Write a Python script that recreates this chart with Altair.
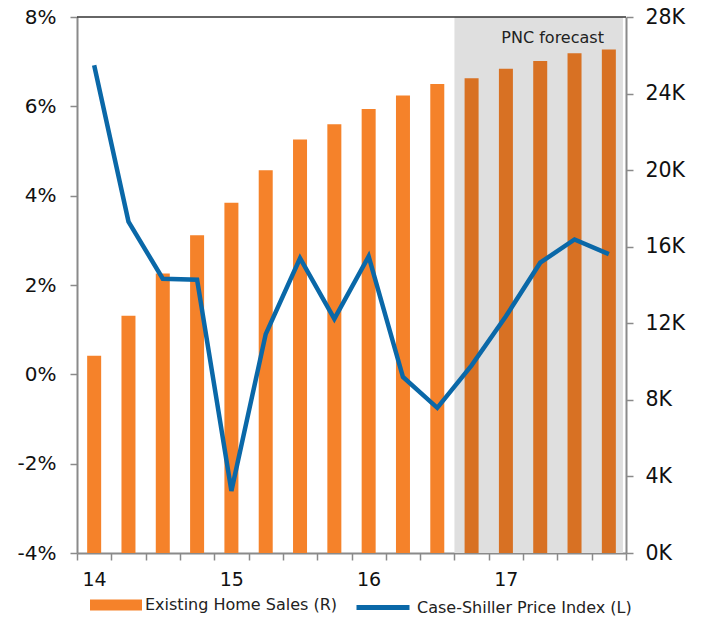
import altair as alt
import pandas as pd

quarters = ["14Q1", "14Q2", "14Q3", "14Q4", "15Q1", "15Q2", "15Q3", "15Q4",
            "16Q1", "16Q2", "16Q3", "16Q4", "17Q1", "17Q2", "17Q3", "17Q4"]
home_sales_k = [10.3, 12.4, 14.6, 16.6, 18.3, 20.0, 21.6, 22.4,
                23.2, 23.9, 24.5, 24.8, 25.3, 25.7, 26.1, 26.3]
case_shiller_pct = [6.92, 3.42, 2.14, 2.12, -2.61, 0.90, 2.60, 1.24,
                    2.64, -0.06, -0.75, 0.20, 1.30, 2.50, 3.02, 2.69]
forecast_from = "16Q4"
year_labels = ["14", "15", "16", "17"]
left_ticks = [-4, -2, 0, 2, 4, 6, 8]
right_ticks = [0, 4, 8, 12, 16, 20, 24, 28]

bar_name = "Existing Home Sales (R)"
fc_name = "Forecast"
line_name = "Case-Shiller Price Index (L)"
FONT = "DejaVu Sans"

n = len(quarters)
f_idx = quarters.index(forecast_from)
df = pd.DataFrame({
    "quarter": quarters,
    "pos": [i + 0.5 for i in range(n)],
    "sales": home_sales_k,
    "cs": case_shiller_pct,
    "period": [bar_name if i < f_idx else fc_name for i in range(n)],
    "series": [line_name] * n,
})
shade_end = n - 0.09
shade_df = pd.DataFrame({"start": [f_idx], "end": [shade_end]})
note_df = pd.DataFrame({"x": [shade_end], "y": [max(left_ticks)], "t": ["PNC forecast"]})

year_map = " : ".join(
    f"datum.value == {4 * i} ? '{y}'" for i, y in enumerate(year_labels)
) + " : ''"

AX = "#8A8A8A"
xscale = alt.Scale(domain=[0, n], nice=False, zero=False, padding=0)
xaxis = alt.Axis(values=list(range(n + 1)), labelExpr=year_map, labelOffset=17,
                 labelOverlap=False, labelBound=False, labelFlush=False,
                 grid=False, tickSize=7, tickColor=AX, domainColor=AX,
                 tickWidth=1.5, domainWidth=2,
                 labelFontSize=19, labelFont=FONT, labelColor="#111",
                 labelPadding=10, title=None)

left_scale = alt.Scale(domain=[min(left_ticks), max(left_ticks)], nice=False)
left_axis = alt.Axis(orient="left", values=left_ticks, labelExpr="datum.value + '%'",
                     grid=False, tickSize=7, tickColor=AX, domainColor=AX,
                     tickWidth=1.5, domainWidth=2,
                     labelFontSize=20, labelFont=FONT, labelColor="#111",
                     labelPadding=14, title=None)
right_scale = alt.Scale(domain=[min(right_ticks), max(right_ticks)], nice=False)
right_axis = alt.Axis(orient="right", values=right_ticks, labelExpr="datum.value + 'K'",
                      grid=False, tickSize=7, tickColor=AX, domainColor=AX,
                      tickWidth=1.5, domainWidth=2,
                      labelFontSize=20.5, labelFont=FONT, labelColor="#111",
                      labelPadding=12, title=None)

shade = alt.Chart(shade_df).mark_rect(color="#DFDFDF").encode(
    x=alt.X("start:Q", scale=xscale, axis=xaxis),
    x2="end:Q",
)

bars = alt.Chart(df).mark_bar(width=14).encode(
    x=alt.X("pos:Q", scale=xscale, axis=xaxis),
    y=alt.Y("sales:Q", scale=right_scale, axis=right_axis),
    fill=alt.Fill("period:N",
                  scale=alt.Scale(domain=[bar_name, fc_name], range=["#F5822A", "#D87123"]),
                  legend=alt.Legend(values=[bar_name], orient="none", legendX=13, legendY=562,
                                    title=None, symbolType="M-1,-0.21H1V0.21H-1Z",
                                    symbolSize=2704, symbolStrokeWidth=0, symbolOpacity=1,
                                    labelFontSize=16, labelFont=FONT, labelColor="#222",
                                    labelOffset=3, labelLimit=0)),
)

left_y = alt.Y("y:Q", scale=left_scale, axis=left_axis)

top_rule = alt.Chart(note_df).mark_rule(color="#333", strokeWidth=1.5).encode(
    y=left_y,
)

line = alt.Chart(df).mark_line(strokeWidth=4.5).encode(
    x=alt.X("pos:Q", scale=xscale, axis=xaxis),
    y=alt.Y("cs:Q", scale=left_scale, axis=left_axis),
    stroke=alt.Stroke("series:N",
                      scale=alt.Scale(domain=[line_name], range=["#0A68A8"]),
                      legend=alt.Legend(orient="none", legendX=277, legendY=561.5, title=None,
                                        symbolType="stroke", symbolSize=2809,
                                        symbolStrokeWidth=5,
                                        labelFontSize=16, labelFont=FONT, labelColor="#222",
                                        labelOffset=5, labelLimit=0)),
)

note = alt.Chart(note_df).mark_text(align="right", baseline="top", dx=-19, dy=13,
                                    fontSize=16, font=FONT, color="#222").encode(
    x=alt.X("x:Q", scale=xscale, axis=xaxis),
    y=left_y,
    text="t:N",
)

A = alt.layer(shade, bars)
B = alt.layer(top_rule, line, note)

chart = alt.layer(A, B).resolve_scale(y="independent").properties(
    width=549, height=536,
    autosize=alt.AutoSizeParams(type="none"),
    padding={"left": 77, "top": 17, "right": 79, "bottom": 65},
).configure_view(stroke=None)

chart.save("out.html", embed_options={"renderer": "svg", "actions": False})
